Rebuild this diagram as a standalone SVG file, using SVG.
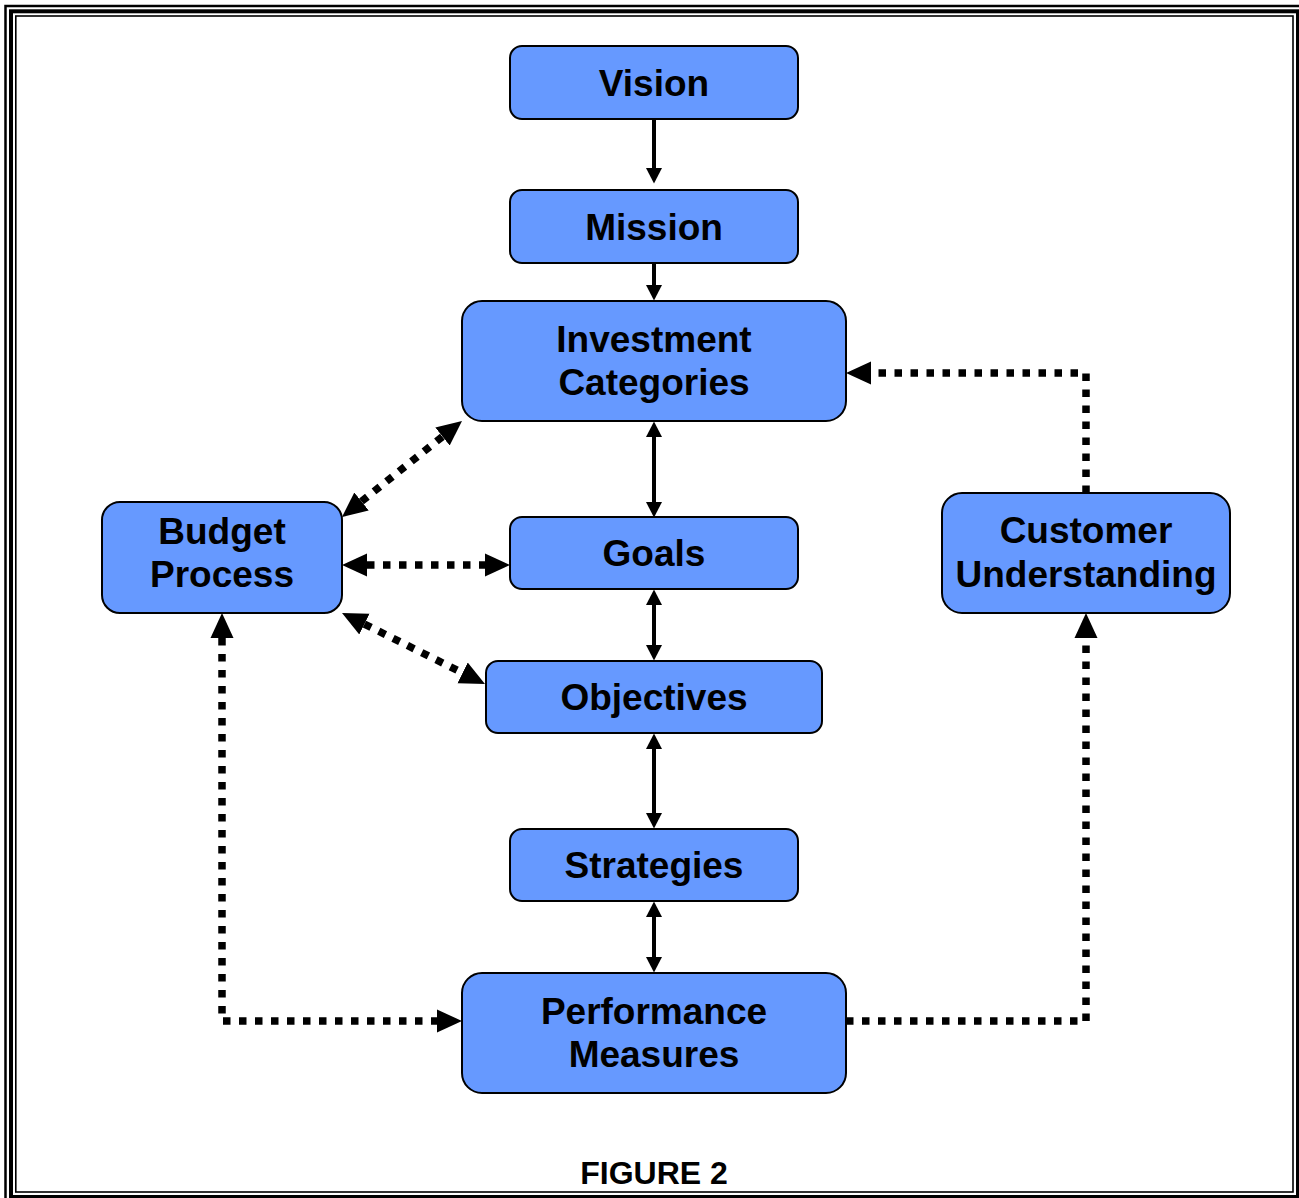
<svg xmlns="http://www.w3.org/2000/svg" width="1299" height="1198" viewBox="0 0 1299 1198">
<style>
.node{fill:#6699FF;stroke:#000;stroke-width:2}
.t{font-family:"Liberation Sans",Arial,sans-serif;font-weight:bold;font-size:37px;fill:#000;text-anchor:middle}
.cap{font-family:"Liberation Sans",Arial,sans-serif;font-weight:bold;font-size:32px;fill:#000;text-anchor:middle}
.solid{fill:none;stroke:#000;stroke-width:4}
.dot{fill:none;stroke:#000;stroke-width:7.5;stroke-dasharray:7.5 8.5}
</style>
<defs>
<marker id="sh" markerUnits="userSpaceOnUse" viewBox="0 -9 17 18" refX="0" refY="0" markerWidth="17" markerHeight="18" orient="auto-start-reverse">
<path d="M0,-8 L15.5,0 L0,8 z" fill="#000"/>
</marker>
<marker id="dh" markerUnits="userSpaceOnUse" viewBox="0 -12 26 24" refX="0" refY="0" markerWidth="26" markerHeight="24" orient="auto-start-reverse">
<path d="M0,-11.5 L25,0 L0,11.5 z" fill="#000"/>
</marker>
</defs>
<g id="frame" fill="none" stroke="#000">
<rect x="5.5" y="6" width="1298" height="1196" stroke-width="2.5"/>
<rect x="11" y="11.3" width="1287" height="1185.7" stroke-width="4"/>
<rect x="15.8" y="16" width="1277.2" height="1176" stroke-width="1.6"/>
</g>
<g id="connectors">
<path class="solid" d="M654,119 V168" marker-end="url(#sh)"/>
<path class="solid" d="M654,263 V285" marker-end="url(#sh)"/>
<path class="solid" d="M654,437 V502" marker-start="url(#sh)" marker-end="url(#sh)"/>
<path class="solid" d="M654,605 V645" marker-start="url(#sh)" marker-end="url(#sh)"/>
<path class="solid" d="M654,749 V813" marker-start="url(#sh)" marker-end="url(#sh)"/>
<path class="solid" d="M654,917 V957" marker-start="url(#sh)" marker-end="url(#sh)"/>
<path class="dot" d="M1086,493 V373 H871" marker-end="url(#dh)"/>
<path class="dot" d="M846,1021 H1086 V638" marker-end="url(#dh)"/>
<path class="dot" d="M222,638 V1021 H437" marker-start="url(#dh)" marker-end="url(#dh)"/>
<path class="dot" d="M367,565 H485" marker-start="url(#dh)" marker-end="url(#dh)"/>
<path class="dot" d="M361.5,501.4 L442.5,436.6" marker-start="url(#dh)" marker-end="url(#dh)"/>
<path class="dot" d="M364.4,624.1 L462.6,672.9" marker-start="url(#dh)" marker-end="url(#dh)"/>
</g>
<g id="vision"><rect class="node" x="510" y="46" width="288" height="73" rx="12"/><text class="t" x="654" y="95.5">Vision</text></g>
<g id="mission"><rect class="node" x="510" y="190" width="288" height="73" rx="12"/><text class="t" x="654" y="239.5">Mission</text></g>
<g id="investment"><rect class="node" x="462" y="301" width="384" height="120" rx="20"/><text class="t" x="654" y="352">Investment</text><text class="t" x="654" y="395">Categories</text></g>
<g id="goals"><rect class="node" x="510" y="517" width="288" height="72" rx="12"/><text class="t" x="654" y="566">Goals</text></g>
<g id="objectives"><rect class="node" x="486" y="661" width="336" height="72" rx="12"/><text class="t" x="654" y="710">Objectives</text></g>
<g id="strategies"><rect class="node" x="510" y="829" width="288" height="72" rx="12"/><text class="t" x="654" y="878">Strategies</text></g>
<g id="performance"><rect class="node" x="462" y="973" width="384" height="120" rx="20"/><text class="t" x="654" y="1024">Performance</text><text class="t" x="654" y="1067">Measures</text></g>
<g id="budget"><rect class="node" x="102" y="502" width="240" height="111" rx="18"/><text class="t" x="222" y="544">Budget</text><text class="t" x="222" y="587">Process</text></g>
<g id="customer"><rect class="node" x="942" y="493" width="288" height="120" rx="20"/><text class="t" x="1086" y="543">Customer</text><text class="t" x="1086" y="587">Understanding</text></g>
<text class="cap" x="654" y="1184">FIGURE 2</text>
</svg>
